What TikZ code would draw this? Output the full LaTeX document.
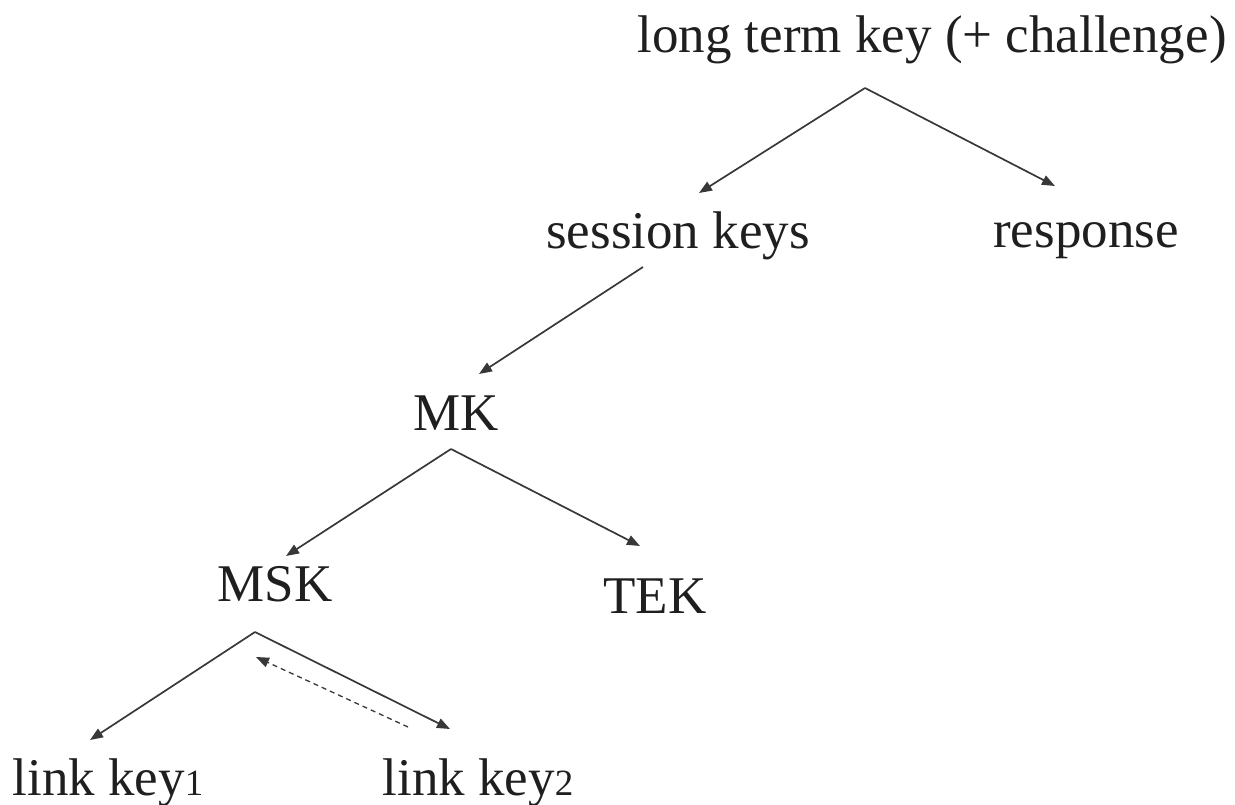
\documentclass[tikz,border=0pt]{standalone}
\usepackage{fontspec}
\setmainfont{Liberation Serif}
\usetikzlibrary{arrows.meta}
\newcommand{\osdigit}[1]{{\fontsize{37}{40}\selectfont #1}}
\begin{document}
\begin{tikzpicture}[x=1pt,y=-1pt,
  lbl/.style={inner sep=0pt,anchor=base,text=black!88,font=\fontsize{53}{60}\selectfont},
  conn/.style={draw=black!78,line width=1.7pt,-{Triangle[length=13pt,width=10pt]}},
  dconn/.style={conn,dashed,dash pattern=on 5pt off 4pt,line width=1.3pt}]
\useasboundingbox (0,0) rectangle (1235,804);
% labels
\node[lbl] (ltk) at (932,52) {long term key (+ challenge)};
\node[lbl] (sk)  at (678,248) {session keys};
\node[lbl] (rsp) at (1086,247) {response};
\node[lbl] (mk)  at (456,430) {MK};
\node[lbl] (msk) at (275,601) {MSK};
\node[lbl] (tek) at (655,613) {TEK};
\node[lbl] (lk1) at (108,795) {link key\osdigit{1}};
\node[lbl] (lk2) at (478,795) {link key\osdigit{2}};
% connector points
\coordinate (a1) at (865,88);
\coordinate (t-sk) at (699,193);
\coordinate (t-rsp) at (1055,186);
\coordinate (s-sk) at (643,267);
\coordinate (t-mk) at (479,374);
\coordinate (a2) at (451,449);
\coordinate (t-msk) at (286,556);
\coordinate (t-tek) at (640,546);
\coordinate (a3) at (255,632);
\coordinate (t-lk1) at (90,740);
\coordinate (t-lk2) at (450,729);
\coordinate (d-start) at (408,727);
\coordinate (d-end) at (256,657);
% connectors
\draw[conn] (a1) -- (t-sk);
\draw[conn] (a1) -- (t-rsp);
\draw[conn] (s-sk) -- (t-mk);
\draw[conn] (a2) -- (t-msk);
\draw[conn] (a2) -- (t-tek);
\draw[conn] (a3) -- (t-lk1);
\draw[conn] (a3) -- (t-lk2);
\draw[dconn] (d-start) -- (d-end);
\end{tikzpicture}
\end{document}
